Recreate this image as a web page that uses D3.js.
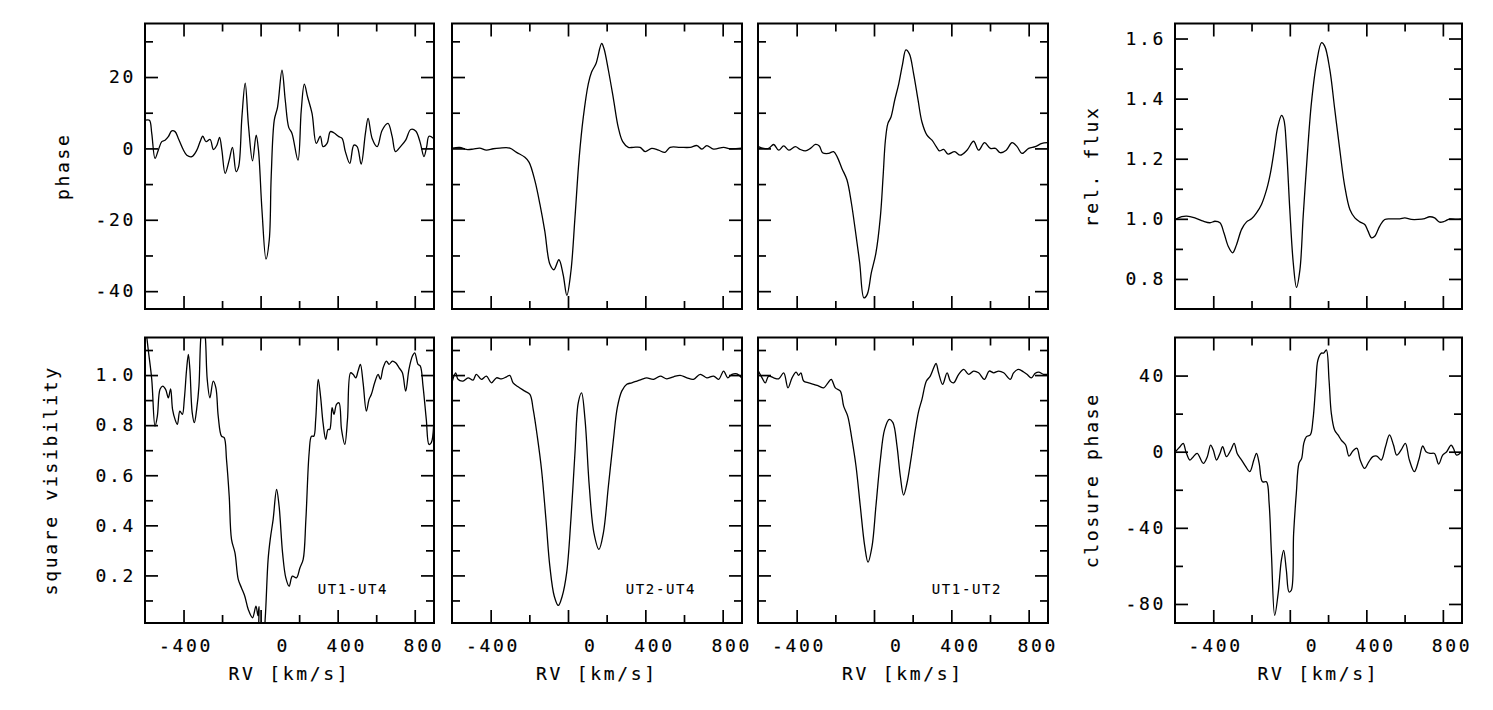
<!DOCTYPE html>
<html>
<head>
<meta charset="utf-8">
<script src="https://cdn.jsdelivr.net/npm/d3@7"></script>
<style>
body { margin: 0; background: #fff; }
text { font-family: "DejaVu Sans Mono", monospace; fill: #000; stroke: #000; stroke-width: 0.15px; }
.tick text { font-size: 18px; letter-spacing: 2.7px; }
.title { font-size: 18px; letter-spacing: 2.7px; }
.base { font-size: 14px; letter-spacing: 1.6px; stroke-width: 0.1px; }
</style>
</head>
<body>
<svg id="fig" width="1493" height="710"></svg>
<script>
// RV axis, shared by all panels
const rvDomain = [-600, 900];
const rvMajor = [-400, 0, 400, 800];
const rvMinor = [-200, 200, 600];

// differential phase [deg] vs RV [km/s]
const phaseUT14 = [[-598,7.9],[-577,7.9],[-565,4.2],[-548,-2.8],[-531,-0.5],[-513,1.9],[-496,2.3],[-479,3.3],[-461,4.9],[-444,4.7],[-427,2.8],[-400,-0.5],[-383,-1.9],[-357,-2.3],[-331,-0.5],[-314,1.9],[-300,3.4],[-283,1.9],[-262,2.5],[-245,-0.3],[-227,0.9],[-213,3.1],[-201,-0.5],[-184,-7.0],[-163,-3.3],[-146,0.3],[-127,-6.5],[-114,-5.1],[-97,8.8],[-80,18.3],[-63,6.5],[-42,-3.5],[-23,3.7],[-11,-0.5],[7,-17.2],[28,-31],[45,-25.6],[55,-7.9],[71,7.9],[88,11.6],[111,21.9],[128,13.5],[146,5.9],[163,4.2],[194,-3.3],[211,10.7],[227,18.0],[244,14.4],[267,9.8],[289,1.4],[310,3.4],[324,0.5],[345,1.4],[362,4.7],[380,4.4],[406,3.3],[423,2.8],[440,-0.9],[463,-4.2],[484,0.9],[501,0.5],[522,-4.4],[544,4.2],[558,8.4],[579,2.8],[605,0.5],[631,5.1],[661,7.0],[683,3.3],[700,-0.9],[726,0.5],[753,2.3],[779,5.3],[805,4.9],[827,1.9],[848,-2.3],[862,0.5],[874,3.4],[898,2.8]];
const phaseUT24 = [[-598,0.1],[-560,0.3],[-526,-0.3],[-491,-0.2],[-457,0.1],[-422,-0.5],[-387,-0.1],[-353,0.1],[-301,0.1],[-266,-1.1],[-223,-2.5],[-201,-3.9],[-171,-9.1],[-145,-15.7],[-120,-23.2],[-94,-32.4],[-73,-34.0],[-47,-31.2],[-25,-35.4],[-6,-41.2],[15,-34.5],[36,-19.4],[58,-2.5],[79,8.7],[105,18.1],[122,21.4],[145,23.8],[174,29.4],[186,28.0],[209,21.9],[235,13.9],[260,5.9],[283,1.9],[312,0.3],[338,0.3],[373,0.3],[399,-0.9],[433,0],[468,-0.5],[502,-1.1],[528,0.3],[580,0.3],[632,0.3],[667,0.8],[693,-0.2],[718,0.8],[753,-0.2],[805,0.3],[839,-0.1],[898,0.1]];
const phaseUT12 = [[-598,0.5],[-571,0],[-545,0],[-519,1.1],[-493,-0.5],[-467,0.7],[-441,-0.5],[-407,0.5],[-381,-0.3],[-355,-0.7],[-329,0],[-303,1.1],[-283,0.7],[-266,-1.2],[-235,-1.4],[-209,-0.9],[-191,-2.3],[-166,-5.6],[-140,-8.8],[-117,-15.3],[-97,-22.8],[-74,-32.1],[-52,-41.9],[-35,-40.9],[-14,-34.9],[10,-29.3],[33,-19.1],[47,-7.9],[59,2.3],[72,7.0],[88,8.8],[107,13.5],[128,18.1],[148,23.7],[165,27.6],[183,26.5],[205,20.9],[228,13.5],[248,7.4],[274,3.7],[300,2.3],[322,0.5],[338,-0.7],[360,-0.3],[383,-1.6],[417,-0.9],[446,-1.9],[481,-0.5],[515,2.0],[541,-0.5],[572,1.6],[602,0],[628,0],[653,-1.2],[684,-0.5],[714,1.6],[740,0.5],[765,-1.4],[800,0],[834,0.5],[869,1.4],[898,1.6]];

// relative flux vs RV
const relFlux = [[-598,0.998],[-565,1.007],[-539,1.009],[-496,1.003],[-452,0.992],[-417,0.987],[-391,0.992],[-365,0.987],[-344,0.953],[-322,0.909],[-299,0.887],[-278,0.915],[-252,0.965],[-226,0.990],[-200,1.000],[-174,1.020],[-148,1.048],[-121,1.098],[-101,1.153],[-81,1.231],[-64,1.303],[-43,1.344],[-31,1.330],[-17,1.231],[0,1.031],[18,0.854],[35,0.772],[53,0.831],[70,1.009],[91,1.208],[113,1.386],[140,1.519],[166,1.586],[183,1.574],[209,1.497],[235,1.364],[261,1.231],[287,1.109],[314,1.031],[340,1.003],[366,0.990],[392,0.981],[409,0.959],[427,0.937],[444,0.942],[470,0.976],[496,0.998],[531,1.000],[575,1.000],[601,1.003],[635,0.998],[670,0.998],[705,1.001],[731,1.007],[757,1.003],[783,0.989],[809,0.992],[836,1.000],[870,0.998],[898,1.000]];

// squared visibility vs RV
const visUT14 = [[-598,1.20],[-583,1.10],[-565,0.983],[-548,0.796],[-536,0.836],[-522,0.943],[-508,0.956],[-493,0.943],[-479,0.909],[-467,0.945],[-457,0.863],[-444,0.823],[-432,0.803],[-419,0.856],[-406,0.843],[-396,0.903],[-384,1.023],[-375,1.083],[-367,1.023],[-355,0.850],[-344,0.810],[-332,0.863],[-320,0.956],[-311,1.142],[-298,1.24],[-286,1.142],[-277,0.983],[-263,0.909],[-246,0.976],[-232,0.949],[-220,0.836],[-203,0.756],[-189,0.750],[-177,0.663],[-163,0.517],[-151,0.344],[-133,0.290],[-116,0.184],[-99,0.150],[-82,0.117],[-64,0.064],[-42,0.031],[-24,0.077],[-14,0.04],[-8,0.075],[-3,-0.05],[14,-0.05],[24,0.03],[39,0.264],[51,0.350],[65,0.423],[83,0.543],[96,0.477],[114,0.290],[131,0.190],[148,0.157],[165,0.197],[186,0.190],[204,0.230],[221,0.264],[235,0.423],[252,0.690],[264,0.756],[276,0.756],[286,0.823],[299,0.983],[311,0.916],[324,0.810],[338,0.743],[350,0.783],[359,0.783],[371,0.870],[381,0.843],[394,0.883],[407,0.889],[420,0.783],[437,0.723],[451,0.823],[467,1.009],[480,1.003],[494,0.989],[506,1.016],[518,1.043],[532,0.969],[549,0.856],[563,0.903],[575,0.923],[592,0.969],[610,1.003],[622,0.983],[636,1.029],[653,1.056],[667,1.043],[684,1.056],[701,1.049],[719,1.029],[736,1.009],[753,0.936],[770,1.023],[788,1.076],[800,1.089],[817,1.043],[829,1.036],[843,0.956],[860,0.823],[874,0.723],[886,0.730],[898,0.796]];
const visUT24 = [[-598,0.976],[-581,1.009],[-569,0.983],[-543,0.976],[-517,0.989],[-491,0.980],[-474,1.003],[-448,0.983],[-422,0.996],[-396,0.969],[-370,0.989],[-344,0.985],[-318,0.993],[-301,0.999],[-284,0.969],[-258,0.953],[-223,0.936],[-197,0.923],[-180,0.863],[-159,0.756],[-137,0.623],[-114,0.423],[-94,0.237],[-71,0.117],[-50,0.080],[-30,0.117],[-7,0.210],[15,0.423],[36,0.690],[53,0.889],[70,0.929],[88,0.823],[110,0.557],[134,0.370],[160,0.304],[183,0.370],[209,0.557],[235,0.743],[255,0.870],[278,0.936],[304,0.963],[330,0.969],[356,0.976],[381,0.983],[407,0.989],[442,0.983],[477,0.996],[511,0.985],[546,0.993],[580,0.999],[615,0.989],[649,0.983],[684,1.003],[718,0.989],[753,0.996],[779,0.983],[805,1.016],[826,0.989],[848,1.003],[874,1.005],[898,0.989]];
const visUT12 = [[-598,1.016],[-579,0.989],[-562,0.969],[-545,0.996],[-519,0.989],[-493,0.985],[-467,1.009],[-445,0.949],[-424,0.989],[-403,1.012],[-390,0.999],[-378,1.009],[-364,0.976],[-338,0.969],[-312,0.963],[-286,0.956],[-260,0.949],[-238,0.969],[-221,0.983],[-200,0.949],[-174,0.936],[-157,0.876],[-136,0.836],[-114,0.743],[-93,0.636],[-71,0.477],[-48,0.317],[-31,0.253],[-10,0.317],[10,0.477],[33,0.663],[55,0.783],[79,0.823],[98,0.810],[119,0.716],[136,0.597],[153,0.521],[171,0.570],[191,0.663],[214,0.783],[231,0.856],[248,0.903],[271,0.976],[291,0.996],[309,1.029],[321,1.047],[334,1.009],[355,0.963],[378,1.009],[395,0.976],[412,0.969],[438,1.003],[464,1.023],[490,1.003],[515,1.016],[541,1.009],[571,0.983],[596,1.016],[619,1.009],[645,1.016],[671,1.009],[705,0.983],[722,1.009],[748,1.023],[774,1.012],[791,1.003],[814,0.989],[834,1.007],[852,1.012],[877,1.003],[898,1.003]];

// closure phase [deg] vs RV
const closurePhase = [[-598,0],[-574,2.6],[-557,4.4],[-543,0],[-522,-4.4],[-504,-2.6],[-484,-0.9],[-452,-6.1],[-431,-2.6],[-414,3.5],[-400,0.9],[-383,-4.4],[-365,-0.9],[-351,2.6],[-331,-2.6],[-308,0.9],[-291,4.4],[-275,-0.9],[-252,-4.4],[-230,-7.9],[-209,-10.5],[-188,-4.4],[-174,-0.9],[-160,-6.1],[-143,-15.8],[-122,-15.8],[-108,-27.2],[-96,-53.5],[-79,-86],[-61,-74.6],[-44,-57],[-32,-51.8],[-18,-62.3],[-4,-73.7],[8,-72.8],[20,-43],[34,-21.9],[48,-6.1],[62,-3.5],[73,4.4],[87,7.9],[107,8.8],[121,16.7],[135,34.2],[147,48.2],[165,51.8],[177,51.8],[191,53.5],[205,37.7],[217,20.2],[234,11.4],[252,8.8],[269,6.1],[292,3.5],[309,-2.3],[330,0.4],[351,1.8],[368,-4.4],[391,-8.8],[413,-5.3],[434,-2.6],[455,-2.3],[478,-4.4],[500,2.6],[521,8.8],[542,3.5],[559,-1.8],[582,0.9],[604,4.4],[625,-4.4],[651,-10.5],[674,-4.4],[695,3.0],[712,0],[733,-0.9],[756,-0.9],[778,-6.5],[799,-1.8],[820,0],[843,3.5],[855,1.8],[872,-1.8],[898,0]];

// y ticks
const phaseMajor = [-40, -20, 0, 20], phaseMinor = [-30, -10, 10, 30];
const fluxMajor = [0.8, 1.0, 1.2, 1.4, 1.6], fluxMinor = [0.9, 1.1, 1.3, 1.5];
const visMajor = [0.2, 0.4, 0.6, 0.8, 1.0], visMinor = [0.1, 0.3, 0.5, 0.7, 0.9, 1.1];
const cpMajor = [-80, -40, 0, 40], cpMinor = [-60, -20, 20];

const baselines = ["UT1-UT4", "UT2-UT4", "UT1-UT2"];

// layout
const colLeft = [145, 452, 758, 1175];
const colWidth = [289, 290, 290, 287];
const rowTop = [23.5, 337.5];
const rowHeight = 285.5;
const majorLen = 13, minorLen = 8;

const intFmt = d => String(d);
const decFmt = d => d.toFixed(1);

const panels = [
    { col: 0, row: 0, data: phaseUT14, y: [-45, 35], major: phaseMajor, minor: phaseMinor, fmt: intFmt, title: "phase", titleX: 69 },
    { col: 1, row: 0, data: phaseUT24, y: [-45, 35], major: phaseMajor, minor: phaseMinor },
    { col: 2, row: 0, data: phaseUT12, y: [-45, 35], major: phaseMajor, minor: phaseMinor },
    { col: 3, row: 0, data: relFlux, y: [0.7, 1.65], major: fluxMajor, minor: fluxMinor, fmt: decFmt, title: "rel. flux", titleX: 1098 },
    { col: 0, row: 1, data: visUT14, y: [0.01, 1.15], major: visMajor, minor: visMinor, fmt: decFmt, title: "square visibility", titleX: 57, base: baselines[0] },
    { col: 1, row: 1, data: visUT24, y: [0.01, 1.15], major: visMajor, minor: visMinor, base: baselines[1] },
    { col: 2, row: 1, data: visUT12, y: [0.01, 1.15], major: visMajor, minor: visMinor, base: baselines[2] },
    { col: 3, row: 1, data: closurePhase, y: [-90, 60], major: cpMajor, minor: cpMinor, fmt: intFmt, title: "closure phase", titleX: 1098 }
];

const svg = d3.select("#fig");

panels.forEach((p, i) => {
    const left = colLeft[p.col], top = rowTop[p.row], w = colWidth[p.col], h = rowHeight;
    const g = svg.append("g").attr("transform", `translate(${left},${top})`);

    const x = d3.scaleLinear().domain(rvDomain).range([0, w]);
    const y = d3.scaleLinear().domain(p.y).range([h, 0]);

    g.append("clipPath").attr("id", "clip" + i)
        .append("rect").attr("width", w).attr("height", h);

    const line = d3.line()
        .x(d => x(d[0]))
        .y(d => y(d[1]))
        .curve(d3.curveCatmullRom.alpha(0.5));

    g.append("path")
        .datum(p.data)
        .attr("clip-path", `url(#clip${i})`)
        .attr("fill", "none")
        .attr("stroke", "#000")
        .attr("stroke-width", 1.3)
        .attr("stroke-linejoin", "round")
        .attr("d", line);

    const addAxis = (axis, tr) => g.append("g")
        .attr("transform", tr)
        .call(axis)
        .call(s => s.select(".domain").remove())
        .call(s => s.selectAll(".tick line").attr("stroke", "#000").attr("stroke-width", 1.7));

    // x ticks, bottom (labels on lower row) and top
    const xb = addAxis(d3.axisBottom(x).tickValues(rvMajor).tickSize(-majorLen).tickPadding(16)
        .tickFormat(p.row === 1 ? intFmt : ""), `translate(0,${h})`);
    xb.selectAll(".tick text").attr("text-anchor", "end").attr("dx", 29);
    addAxis(d3.axisBottom(x).tickValues(rvMinor).tickSize(-minorLen).tickFormat(""), `translate(0,${h})`);
    addAxis(d3.axisTop(x).tickValues(rvMajor).tickSize(-majorLen).tickFormat(""), "translate(0,0)");
    addAxis(d3.axisTop(x).tickValues(rvMinor).tickSize(-minorLen).tickFormat(""), "translate(0,0)");

    // y ticks, left (labels on outer columns) and right
    addAxis(d3.axisLeft(y).tickValues(p.major).tickSize(-majorLen).tickPadding(9)
        .tickFormat(p.fmt ? p.fmt : ""), "translate(0,0)");
    addAxis(d3.axisLeft(y).tickValues(p.minor).tickSize(-minorLen).tickFormat(""), "translate(0,0)");
    addAxis(d3.axisRight(y).tickValues(p.major).tickSize(-majorLen).tickFormat(""), `translate(${w},0)`);
    addAxis(d3.axisRight(y).tickValues(p.minor).tickSize(-minorLen).tickFormat(""), `translate(${w},0)`);

    g.append("rect")
        .attr("width", w).attr("height", h)
        .attr("fill", "none").attr("stroke", "#000").attr("stroke-width", 2);

    if (p.row === 1) {
        g.append("text").attr("class", "title")
            .attr("x", w / 2).attr("y", h + 57)
            .attr("text-anchor", "middle")
            .text("RV [km/s]");
    }
    if (p.base) {
        g.append("text").attr("class", "base")
            .attr("x", w - 46).attr("y", h - 29)
            .attr("text-anchor", "end")
            .text(p.base);
    }
    if (p.title) {
        svg.append("text").attr("class", "title")
            .attr("transform", `translate(${p.titleX},${top + h / 2}) rotate(-90)`)
            .attr("text-anchor", "middle")
            .text(p.title);
    }
});
</script>
</body>
</html>
